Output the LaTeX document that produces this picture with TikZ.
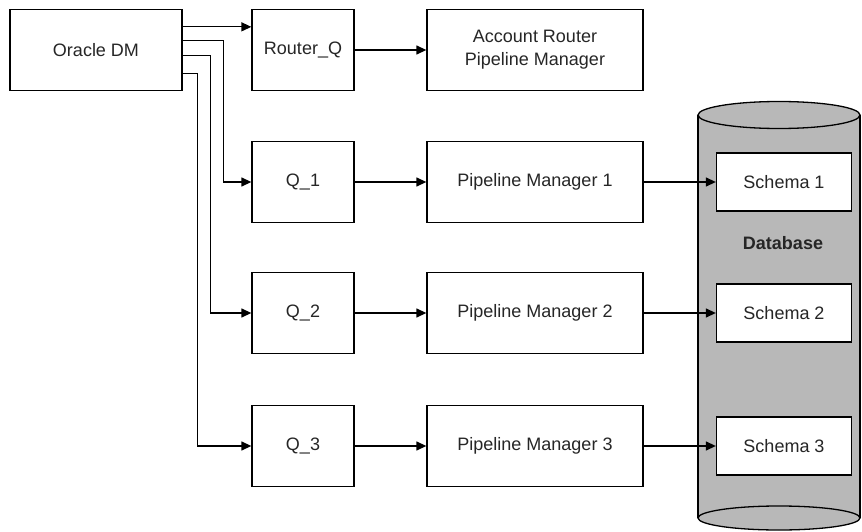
\documentclass[tikz,border=0pt]{standalone}
\usepackage{fontspec}
\setmainfont{Liberation Sans}
\usetikzlibrary{arrows.meta}

\begin{document}
\begin{tikzpicture}[x=1pt,y=-1pt,
  box/.style={draw,line width=1.3pt,fill=white,inner sep=0pt,minimum height=81pt,
    font=\fontsize{18}{23}\selectfont,text=black!85,align=center},
  schemabox/.style={box,minimum width=135pt,minimum height=58pt},
  arrow/.style={line width=1.3pt,-{Triangle[length=10pt,width=9pt]}}]
\useasboundingbox (0,0) rectangle (862,532);
% database cylinder
\fill[black!28] (698,115) rectangle (860,518);
\fill[black!28] (779,518) ellipse [x radius=81pt,y radius=12pt];
\draw[line width=1.3pt] (698,115) -- (698,518);
\draw[line width=1.3pt] (860,115) -- (860,518);
\draw[line width=1.3pt] (779,518) ellipse [x radius=81pt,y radius=12pt];
\draw[line width=1.3pt,fill=black!28] (779,115) ellipse [x radius=81pt,y radius=13.5pt];
\node[font=\fontsize{18}{22}\selectfont\bfseries,text=black!85] (dblabel) at (783,243) {Database};
% boxes
\node[box,minimum width=172pt] (dm) at (96,50) {Oracle DM};
\node[box,minimum width=102pt] (rq) at (303,50) {Router\_Q};
\node[box,minimum width=216pt] (arpm) at (535,50) {Account Router\\Pipeline Manager};
\node[box,minimum width=102pt] (q1) at (303,182) {Q\_1};
\node[box,minimum width=216pt] (pm1) at (535,182) {Pipeline Manager 1};
\node[schemabox] (s1) at (784,182) {Schema 1};
\node[box,minimum width=102pt] (q2) at (303,313) {Q\_2};
\node[box,minimum width=216pt] (pm2) at (535,313) {Pipeline Manager 2};
\node[schemabox] (s2) at (784,313) {Schema 2};
\node[box,minimum width=102pt] (q3) at (303,446) {Q\_3};
\node[box,minimum width=216pt] (pm3) at (535,446) {Pipeline Manager 3};
\node[schemabox] (s3) at (784,446) {Schema 3};
% connectors
\draw[arrow] ([yshift=-18pt]dm.north east) -- ([yshift=-18pt]rq.north west);
\draw[arrow] (rq) -- (arpm);
\draw[arrow] ([yshift=-32pt]dm.north east) -- ++(41,0) |- (q1.west);
\draw[arrow] ([yshift=-47pt]dm.north east) -- ++(28,0) |- (q2.west);
\draw[arrow] ([yshift=-65pt]dm.north east) -- ++(15,0) |- (q3.west);
\draw[arrow] (q1) -- (pm1);
\draw[arrow] (q2) -- (pm2);
\draw[arrow] (q3) -- (pm3);
\draw[arrow] (pm1) -- (s1);
\draw[arrow] (pm2) -- (s2);
\draw[arrow] (pm3) -- (s3);
\end{tikzpicture}
\end{document}
